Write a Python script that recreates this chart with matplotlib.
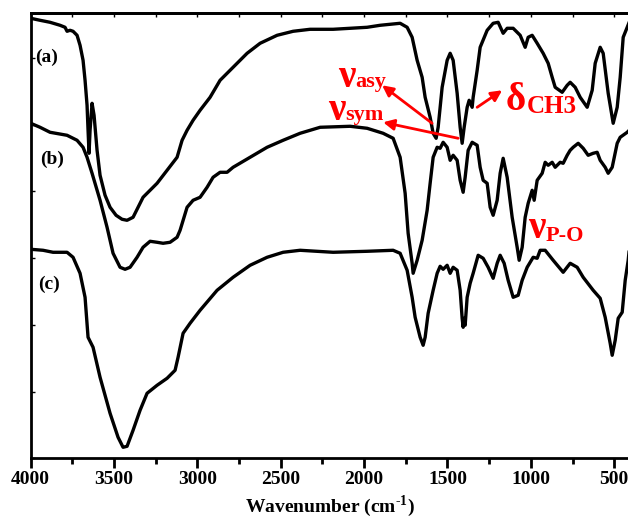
import numpy as np
import matplotlib
matplotlib.use("Agg")
import matplotlib.pyplot as plt
from matplotlib.ticker import MultipleLocator

#Spectrum (a)
wa = [4000, 3944, 3884, 3824, 3794, 3782, 3764, 3746, 3722, 3704, 3686, 3674, 3662, 3656, 3650, 3644,
      3632, 3620, 3602, 3584, 3554, 3524, 3488, 3452, 3422, 3386, 3326, 3296, 3242, 3182, 3122, 3092,
      3062, 3026, 2984, 2924, 2864, 2786, 2702, 2624, 2522, 2426, 2324, 2186, 1982, 1904, 1784, 1742,
      1712, 1682, 1652, 1634, 1604, 1586, 1568, 1556, 1532, 1502, 1484, 1466, 1442, 1424, 1412, 1400,
      1382, 1370, 1352, 1346, 1322, 1304, 1262, 1226, 1196, 1166, 1142, 1106, 1064, 1034, 1016, 992,
      962, 926, 896, 872, 854, 812, 782, 764, 734, 704, 662, 632, 614, 584, 566, 536, 506, 482, 464,
      446, 422, 410]
ta = [440, 438, 436, 433, 431, 427, 428, 427, 423, 413, 398, 378, 353, 328, 305, 328,
      355, 343, 308, 283, 263, 251, 243, 239, 238, 241, 261, 266, 275, 288, 301, 318,
      328, 338, 348, 361, 378, 391, 405, 415, 423, 427, 429, 429, 431, 433, 435, 431,
      421, 398, 381, 361, 341, 325, 320, 331, 371, 398, 405, 398, 365, 331, 315, 331,
      351, 358, 351, 361, 388, 411, 428, 435, 436, 425, 430, 430, 423, 411, 421, 423,
      415, 405, 395, 381, 371, 366, 373, 376, 371, 361, 351, 368, 395, 411, 405, 365, 335, 351, 381,
      421, 431, 436]

#Spectrum (b)
wb = [4000, 3944, 3884, 3782, 3722, 3686, 3662, 3632, 3584, 3542, 3506, 3464, 3434, 3404, 3362, 3326,
      3284, 3242, 3206, 3164, 3122, 3104, 3062, 3026, 2984, 2942, 2906, 2864, 2822, 2786, 2684, 2582,
      2486, 2384, 2264, 2084, 1982, 1886, 1826, 1784, 1754, 1736, 1712, 1706, 1682, 1652, 1622, 1604,
      1586, 1562, 1544, 1526, 1502, 1484, 1466, 1442, 1424, 1406, 1394, 1376, 1352, 1322, 1304, 1286,
      1262, 1244, 1226, 1202, 1184, 1166, 1142, 1112, 1082, 1070, 1052, 1034, 1016, 992, 980, 962,
      932, 914, 896, 872, 854, 824, 806, 782, 764, 746, 716, 686, 656, 626, 602, 584, 554, 536, 512,
      482, 464, 422, 410]
tb = [335, 331, 326, 323, 318, 311, 301, 285, 258, 231, 205, 191, 189, 191, 201, 211,
      217, 216, 215, 216, 221, 228, 251, 258, 261, 271, 281, 286, 286, 291, 301, 311,
      318, 325, 331, 332, 330, 325, 320, 301, 265, 225, 195, 185, 198, 218, 248, 275,
      301, 311, 310, 316, 311, 298, 303, 298, 278, 266, 281, 308, 316, 313, 291, 278,
      275, 251, 243, 258, 285, 300, 281, 241, 211, 198, 211, 241, 255, 268, 258, 278,
      285, 296, 293, 296, 291, 296, 295, 303, 308, 311, 315, 310, 303, 305, 306, 298, 291, 285, 291,
      315, 321, 326, 328]

#Spectrum (c)
wc = [4000, 3926, 3866, 3782, 3746, 3704, 3674, 3656, 3626, 3584, 3524, 3476, 3446, 3422, 3386, 3344,
      3302, 3242, 3182, 3134, 3116, 3086, 3044, 2984, 2882, 2786, 2684, 2582, 2486, 2384, 2186, 1982,
      1826, 1784, 1742, 1712, 1694, 1664, 1646, 1634, 1616, 1586, 1562, 1544, 1526, 1502, 1484, 1466,
      1442, 1424, 1412, 1406, 1400, 1394, 1382, 1364, 1346, 1316, 1286, 1256, 1226, 1202, 1184, 1160,
      1136, 1106, 1076, 1052, 1022, 986, 962, 944, 914, 866, 806, 764, 722, 686, 626, 584, 554, 524,
      512, 494, 476, 452, 434, 416, 410]
tc = [209, 208, 206, 206, 201, 185, 161, 121, 111, 81, 45, 21, 11, 12, 28, 48,
      65, 73, 80, 88, 101, 125, 135, 148, 168, 181, 193, 201, 206, 208, 206, 207,
      208, 205, 188, 161, 141, 121, 113, 121, 145, 168, 185, 192, 189, 193, 185, 191,
      188, 168, 140, 131, 140, 133, 161, 175, 185, 203, 200, 191, 180, 195, 203, 195,
      178, 161, 163, 178, 191, 201, 200, 208, 208, 198, 186, 195, 191, 181, 168, 160, 141, 115,
      103, 118, 140, 146, 178, 198, 208]

plt.rcParams['font.family'] = 'Liberation Serif'
plt.rcParams['font.weight'] = 'bold'
plt.rcParams['mathtext.fontset'] = 'custom'
plt.rcParams['mathtext.rm'] = 'Liberation Serif:bold'
plt.rcParams['mathtext.bf'] = 'Liberation Serif:bold'

fig = plt.figure(figsize=(6.28, 5.19), dpi=100)
ax = fig.add_axes([0.0489, 0.117, 0.953, 0.8574])

for w, t in [(wa, ta), (wb, tb), (wc, tc)]:
	ax.plot(w, t, color='black', lw=2.4)

ax.set_xlim(4000, 410)
ax.set_ylim(0, 445)

#Axis styling
for s in ['left', 'bottom', 'top']:
	ax.spines[s].set_linewidth(2)
ax.spines['right'].set_visible(False)

ax.xaxis.set_major_locator(MultipleLocator(500))
ax.xaxis.set_minor_locator(MultipleLocator(250))
ax.yaxis.set_major_locator(MultipleLocator(66.7))
ax.tick_params(axis='x', which='major', direction='out', length=7, width=2, labelsize=14, pad=2)
ax.tick_params(axis='x', which='minor', direction='out', length=4, width=2)
ax.tick_params(axis='y', which='major', direction='in', length=3, width=1, labelleft=False)
ax.set_xlabel(r'Wavenumber (cm$^{\mathbf{\text{-}1}}$)', fontsize=14, fontweight='bold', labelpad=4)

#small inward ticks along the top
top = ax.secondary_xaxis('top')
top.spines['top'].set_linewidth(2)
top.xaxis.set_major_locator(MultipleLocator(250))
top.tick_params(direction='in', length=3, width=1, labeltop=False)

#Sample labels
ax.text(3974, 401, '(a)', fontsize=14, fontweight='bold', va='center', ha='left')
ax.text(3944, 299, '(b)', fontsize=14, fontweight='bold', va='center', ha='left')
ax.text(3956, 174, '(c)', fontsize=14, fontweight='bold', va='center', ha='left')

#Band assignments
red = '#ff0000'
ax.text(2156, 371, 'ν', fontsize=28, color=red, fontweight='bold', va='baseline', ha='left')
ax.text(2054, 371, 'asy', fontsize=16, color=red, fontweight='bold', va='baseline', ha='left')
ax.text(2216, 338, 'ν', fontsize=28, color=red, fontweight='bold', va='baseline', ha='left')
ax.text(2114, 338, 'sym', fontsize=16, color=red, fontweight='bold', va='baseline', ha='left')
ax.text(1154, 348, 'δ', fontsize=28, color=red, fontweight='bold', va='baseline', ha='left')
ax.text(1022, 345, 'CH3', fontsize=18, color=red, fontweight='bold', va='baseline', ha='left')
ax.text(1016, 220, 'ν', fontsize=28, color=red, fontweight='bold', va='baseline', ha='left')
ax.text(914, 217, 'P-O', fontsize=16, color=red, fontweight='bold', va='baseline', ha='left')

arw = dict(arrowstyle='-|>', color=red, lw=2, mutation_scale=16, shrinkA=0, shrinkB=0)
ax.annotate('', xy=(1892, 373), xytext=(1592, 335), arrowprops=arw)
ax.annotate('', xy=(1886, 336), xytext=(1436, 320), arrowprops=arw)
ax.annotate('', xy=(1172, 368), xytext=(1322, 351), arrowprops=arw)

fig.savefig('out.png', dpi=100)
